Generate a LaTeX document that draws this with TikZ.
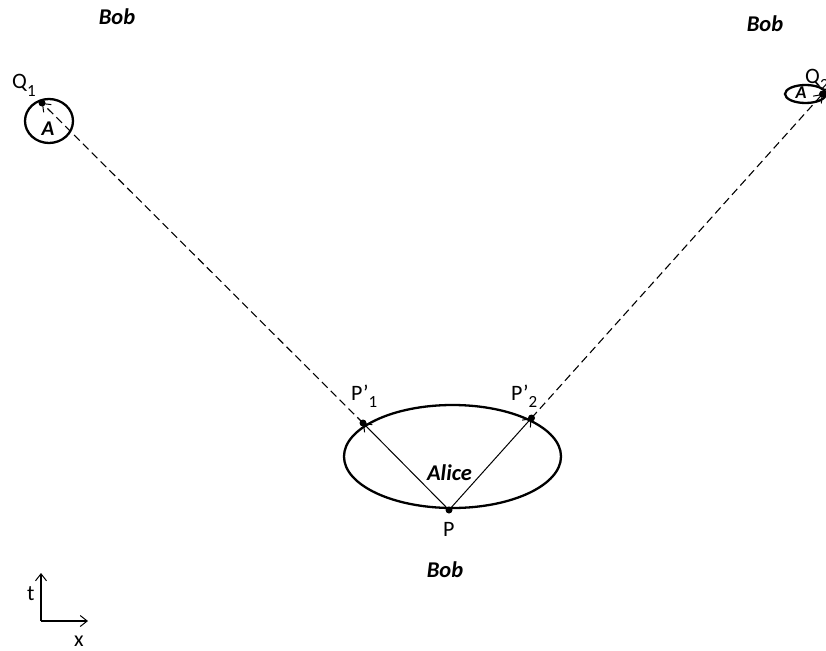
\documentclass[tikz,border=0pt]{standalone}
\usepackage{fontspec}
\setmainfont{Carlito}
\usetikzlibrary{arrows.meta,shapes.geometric}
\tikzset{
  world/.style={draw,ellipse,line width=2.3pt,inner sep=0pt},
  dot/.style={circle,fill,inner sep=0pt,minimum size=7pt},
  arr/.style={line width=1pt,-{Straight Barb[length=7pt,width=11pt,line width=1pt]}},
  darr/.style={line width=1.1pt,dash pattern=on 8pt off 4.5pt,-{Straight Barb[length=7pt,width=11pt,line width=1pt]}},
  lbl/.style={font=\fontsize{22}{26}\selectfont,inner sep=0pt,anchor=base west},
  who/.style={font=\fontsize{22.5}{26}\selectfont\bfseries\itshape,inner sep=0pt,anchor=base},
}
\newcommand{\lowsub}[1]{\raisebox{-7pt}{\fontsize{17}{17}\selectfont #1}}
\begin{document}
\begin{tikzpicture}[x=1pt,y=-1pt]
\useasboundingbox (0,0) rectangle (826,650);
% regions
\node[world,minimum width=217pt,minimum height=103pt] (alice) at (452.5,456.5) {};
\node[world,minimum width=48pt,minimum height=44pt] (a1) at (49,121) {};
\node[world,minimum width=41pt,minimum height=18pt] (a2) at (805.5,94) {};
% texts
\node[who] (alicet) at (449.5,480) {Alice};
\node[who,font=\fontsize{21}{24}\selectfont\bfseries\itshape] (a1t) at (48,135) {A};
\node[who,font=\fontsize{18}{20}\selectfont\bfseries\itshape] (a2t) at (801,99) {A};
\node[who] (bob1) at (117,25) {Bob};
\node[who] (bob2) at (765,32) {Bob};
\node[who] (bob3) at (445,577) {Bob};
% points
\node[dot] (P) at (449,510) {};
\node[dot] (P1) at (363,423) {};
\node[dot] (P2) at (531.5,418) {};
\node[dot] (Q1) at (42,103) {};
\node[dot] (Q2) at (822.5,94) {};
% labels
\node[lbl] (Pl) at (443,536) {P};
\node[lbl] (P1l) at (351,400) {P’\lowsub{1}};
\node[lbl] (P2l) at (511,400) {P’\lowsub{2}};
\node[lbl] (Q1l) at (12,89) {Q\lowsub{1}};
\node[lbl] (Q2l) at (805,84) {Q\lowsub{2}};
% connectors
\draw[arr] (P.center) -- (P1.center);
\draw[arr] (P.center) -- (P2.center);
\draw[darr] (P1.center) -- (Q1.center);
\draw[darr] (P2.center) -- (Q2.center);
% axes
\coordinate (O) at (41,621);
\coordinate (T) at (41,573);
\coordinate (X) at (88,621);
\draw[arr,line width=1.2pt] (O) -- (T);
\draw[arr,line width=1.2pt] (O) -- (X);
\node[lbl] (tl) at (27,600) {t};
\node[lbl] (xl) at (74,646) {x};
\end{tikzpicture}
\end{document}
